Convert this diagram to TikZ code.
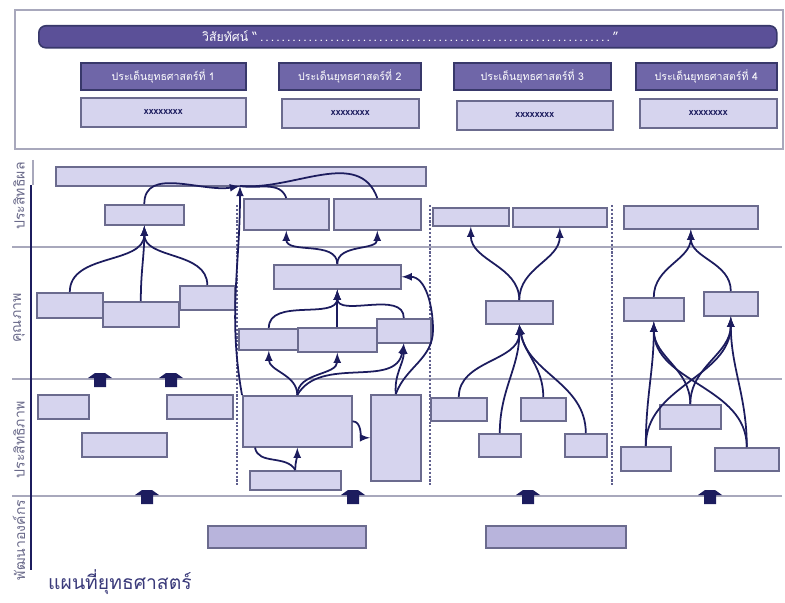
\documentclass[tikz,border=0pt]{standalone}
\usepackage{fontspec}
\setmainfont[Script=Thai]{Loma}
\usetikzlibrary{positioning}

\definecolor{boxfill}{HTML}{D6D4EE}
\definecolor{boxline}{HTML}{6B6B8E}
\definecolor{headfill}{HTML}{6F66A8}
\definecolor{headline}{HTML}{38386A}
\definecolor{visionfill}{HTML}{5B5098}
\definecolor{devfill}{HTML}{B8B4DC}
\definecolor{navy}{HTML}{1C1C5E}
\definecolor{gridgray}{HTML}{A8A8BC}
\definecolor{sidetext}{HTML}{6A6A8A}
\definecolor{titlecol}{HTML}{3A3A7A}

\begin{document}
\begin{tikzpicture}[x=0.2mm, y=-0.2mm, >=latex,
    box/.style={draw=boxline, fill=boxfill, line width=0.9pt, inner sep=0pt, anchor=north west},
    sz/.style 2 args={minimum width=#1*0.2mm, minimum height=#2*0.2mm},
    head/.style={box, draw=headline, fill=headfill, text=white, font=\fontsize{6}{7}\selectfont},
    xbox/.style={box, text=navy, font=\fontsize{5.5}{6}\selectfont\bfseries},
    dev/.style={box, fill=devfill},
    con/.style={draw=navy, line width=1pt},
    sep/.style={draw=navy!70, densely dotted, line width=1.2pt},
    lvl/.style={draw=gridgray, line width=0.8pt},
    side/.style={rotate=90, text=sidetext, font=\fontsize{8}{9}\selectfont}]

    \useasboundingbox (0,0) rectangle (785,603);

    % vision and strategic issues
    \draw[gridgray, line width=1pt] (15,10) rectangle (783,149);
    \node[box, draw=headline, fill=visionfill, rounded corners=4pt, sz={738}{22}] (vis) at (38,25) {};
    \node[anchor=west, text=white, font=\fontsize{7}{8}\selectfont] (vtext) at (196,36)
        {วิสัยทัศน์ “\makebox[71mm]{\dotfill}”};

    \foreach \i/\x/\w/\xx/\ww/\yy in {1/80/165/80/165/97, 2/278/142/281/137/98,
                                      3/453/157/456/156/100, 4/635/141/639/137/98} {
        \node[head, sz={\w}{27}] (s\i) at (\x,62) {ประเด็นยุทธศาสตร์ที่ \i};
        \node[xbox, sz={\ww}{29}] (x\i) at (\xx,\yy) {xxxxxxxx};
    }

    % levels
    \foreach \y in {247,379,496}
        \draw[lvl] (12,\y) -- (782,\y);
    \draw[gridgray, line width=0.8pt] (33,160) -- (33,185);
    \draw[navy, line width=1.5pt] (31,185) -- (31,570);

    \node[side] (l1) at (19,196) {ประสิทธิผล};
    \node[side] (l2) at (19,318) {คุณภาพ};
    \node[side] (l3) at (19,440) {ประสิทธิภาพ};
    \node[side] (l4) at (19,540) {พัฒนาองค์กร};

    \foreach \x in {237,430,612}
        \draw[sep] (\x,205) -- (\x,487);

    % boxes
    \node[box, sz={370}{19}] (goal) at (55,166) {};

    \node[box, sz={79}{20}] (e1) at (104,204) {};
    \node[box, sz={66}{25}] (q1a) at (36,292) {};
    \node[box, sz={76}{25}] (q1b) at (102,301) {};
    \node[box, sz={55}{24}] (q1c) at (179,285) {};
    \node[box, sz={51}{24}] (p1a) at (37,394) {};
    \node[box, sz={66}{24}] (p1b) at (166,394) {};
    \node[box, sz={85}{24}] (p1c) at (81,432) {};

    \node[box, sz={85}{31}] (e2a) at (243,198) {};
    \node[box, sz={87}{31}] (e2b) at (333,198) {};
    \node[box, sz={127}{24}] (q2) at (273,264) {};
    \node[box, sz={60}{21}] (q2a) at (238,328) {};
    \node[box, sz={79}{24}] (q2b) at (297,327) {};
    \node[box, sz={54}{24}] (q2c) at (376,318) {};
    \node[box, sz={109}{51}] (p2a) at (242,395) {};
    \node[box, sz={50}{86}] (p2b) at (370,394) {};
    \node[box, sz={91}{19}] (p2c) at (249,470) {};

    \node[box, sz={76}{18}] (e3a) at (432,207) {};
    \node[box, sz={94}{19}] (e3b) at (512,207) {};
    \node[box, sz={67}{23}] (q3) at (485,300) {};
    \node[box, sz={56}{23}] (p3a) at (430,397) {};
    \node[box, sz={45}{23}] (p3b) at (520,397) {};
    \node[box, sz={42}{23}] (p3c) at (478,433) {};
    \node[box, sz={42}{23}] (p3d) at (564,433) {};

    \node[box, sz={134}{23}] (e4) at (623,205) {};
    \node[box, sz={60}{23}] (q4a) at (623,297) {};
    \node[box, sz={54}{24}] (q4b) at (703,291) {};
    \node[box, sz={61}{24}] (p4a) at (659,404) {};
    \node[box, sz={50}{24}] (p4b) at (620,446) {};
    \node[box, sz={64}{23}] (p4c) at (714,447) {};

    \node[dev, sz={158}{22}] (d1) at (207,525) {};
    \node[dev, sz={140}{22}] (d2) at (485,525) {};

    % up arrows
    \foreach \x/\y in {100/373,171/373,147/490,353/490,528/490,710/490}
        \fill[navy] (\x-5,\y) -- (\x+5,\y) -- (\x+12,\y+5) -- (\x+6,\y+5) -- (\x+6,\y+14)
            -- (\x-6,\y+14) -- (\x-6,\y+5) -- (\x-12,\y+5) -- cycle;

    % links column 1
    \foreach \a in {q1a,q1b,q1c}
        \draw[con,->] (\a.north) to[out=90,in=-90] (e1.south);

    % links column 2
    \coordinate (jn) at (240,186);
    \coordinate (rt) at (433,330);
    \draw[con,->] (e1.north) to[out=90,in=190] (jn);
    \draw[con] (e2a.north) to[out=110,in=-10] (jn);
    \draw[con] (e2b.north) to[out=110,in=-5] (jn);
    \draw[con,->] (p2a.north west) to[out=100,in=-90] (jn);
    \draw[con,->] (q2.north) to[out=90,in=-90] (e2a.south);
    \draw[con,->] (q2.north) to[out=90,in=-90] (e2b.south);
    \foreach \a in {q2a,q2b,q2c}
        \draw[con,->] (\a.north) to[out=90,in=-90] (q2.south);
    \draw[con,->] (p2a.north) to[out=90,in=-90] (q2a.south);
    \draw[con,->] (p2a.north) to[out=90,in=-90] (q2b.south);
    \draw[con,->] (p2a.north) to[out=60,in=-100] (q2c.south);
    \draw[con,->] (p2b.north) to[out=95,in=-90] (q2c.south);
    \draw[con,->] (p2b.north) to[out=70,in=-90] (rt) to[out=90,in=0] (q2.east);
    \draw[con,->] (p2a.east) to[out=0,in=180] (p2b.west);
    \draw[con,->] (p2c.north) to[out=90,in=-90] (p2a.south);
    \draw[con] (p2c.north) to[out=120,in=-80] ([xshift=2.6mm]p2a.south west);

    % links column 3
    \draw[con,->] (q3.north) to[out=90,in=-90] (e3a.south);
    \draw[con,->] (q3.north) to[out=90,in=-90] (e3b.south);
    \foreach \a in {p3a,p3c}
        \draw[con,->] (\a.north) to[out=90,in=-90] (q3.south);
    \foreach \a in {p3b,p3d}
        \draw[con,->] (\a.north) to[out=90,in=-80] (q3.south);

    % links column 4
    \draw[con,->] (q4a.north) to[out=90,in=-90] (e4.south);
    \draw[con,->] (q4b.north) to[out=90,in=-90] (e4.south);
    \foreach \a in {p4b,p4a,p4c} {
        \draw[con,->] (\a.north) to[out=90,in=-90] (q4a.south);
        \draw[con,->] (\a.north) to[out=90,in=-90] (q4b.south);
    }

    \node[anchor=west, text=titlecol, font=\fontsize{11}{13}\selectfont] (title) at (42,582) {แผนที่ยุทธศาสตร์};

\end{tikzpicture}
\end{document}
